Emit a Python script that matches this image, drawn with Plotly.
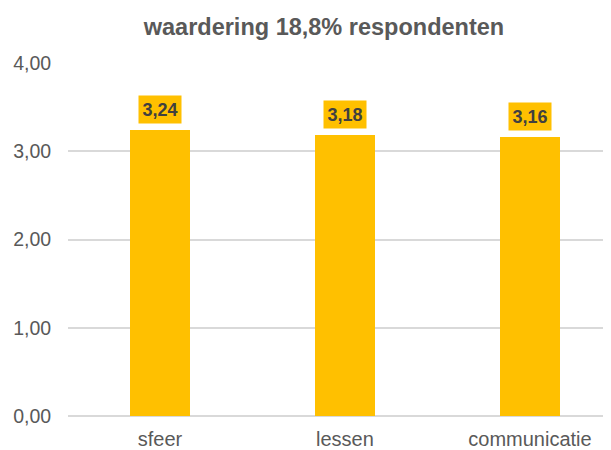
import plotly.graph_objects as go

categories = ["sfeer", "lessen", "communicatie"]
values = [3.24, 3.18, 3.16]
y_ticks = [0, 1, 2, 3, 4]
y_tick_labels = ["0,00", "1,00", "2,00", "3,00", "4,00"]
title_text = "waardering 18,8% respondenten"

gold = "#FFC000"
grey = "#595959"
font_family = "Liberation Sans, Arial, sans-serif"

fig = go.Figure()
fig.add_trace(go.Bar(
    x=list(range(len(categories))),
    y=values,
    width=0.32,
    marker=dict(color=gold, line=dict(width=0)),
    hoverinfo="skip",
))

for i, v in enumerate(values):
    fig.add_annotation(
        x=i, y=v, xref="x", yref="y",
        text="<b>" + f"{v:.2f}".replace(".", ",") + "</b>",
        showarrow=False, yanchor="bottom", yshift=6,
        bgcolor=gold, borderpad=3.5,
        font=dict(family=font_family, size=18, color="#404040"),
    )

fig.update_layout(
    width=603, height=442,
    margin=dict(l=60, r=0, t=55, b=34, autoexpand=False),
    paper_bgcolor="white", plot_bgcolor="white",
    showlegend=False,
    bargap=0,
    title=dict(
        text="<b>" + title_text + "</b>",
        xref="container", x=0.524, xanchor="center",
        yref="container", y=0.957, yanchor="middle",
        font=dict(family=font_family, size=23.5, color=grey),
    ),
    xaxis=dict(
        range=[-0.497, 2.438],
        tickmode="array",
        tickvals=list(range(len(categories))),
        ticktext=categories,
        showgrid=False, zeroline=False, showline=False,
        ticks="outside", ticklen=5, tickcolor="rgba(0,0,0,0)",
        tickfont=dict(family=font_family, size=20, color=grey),
    ),
    yaxis=dict(
        range=[0, 4],
        tickmode="array",
        tickvals=y_ticks,
        ticktext=y_tick_labels,
        showgrid=True, gridcolor="#D9D9D9", gridwidth=2,
        zeroline=True, zerolinecolor="#D9D9D9", zerolinewidth=2,
        showline=False,
        ticks="outside", ticklen=12, tickcolor="rgba(0,0,0,0)",
        tickfont=dict(family=font_family, size=19.5, color=grey),
    ),
)

fig.write_html("out.html")
